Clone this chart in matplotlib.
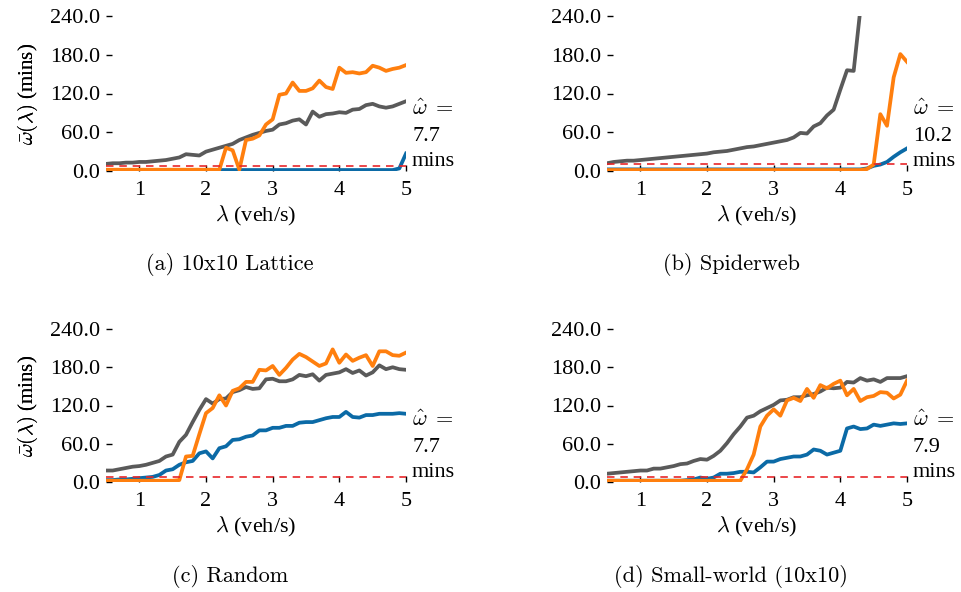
import numpy as np
import matplotlib
matplotlib.use("Agg")
import matplotlib.pyplot as plt
from matplotlib.ticker import FormatStrFormatter

plt.rcParams['font.family'] = 'serif'
plt.rcParams['font.serif'] = ['Liberation Serif', 'DejaVu Serif']
plt.rcParams['mathtext.fontset'] = 'cm'

# arrival rate grid (veh/s)
lam = np.round(np.arange(0.5, 5.01, 0.1), 2)

# ---------- (a) 10x10 Lattice ----------
a_gray = [11, 12, 12, 13, 13, 14, 14, 15, 16, 17, 19, 21, 26, 25, 24, 30, 33, 36, 39, 42, 48, 52,
          56, 59, 62, 64, 72, 74, 78, 80, 72, 92, 84, 88, 89, 91, 90, 95, 96, 102, 104, 100, 98, 100, 104, 108]
a_orange = [2, 2, 2, 2, 2, 2, 2, 2, 2, 2, 2, 2, 2, 2, 2, 2, 2, 2, 36, 32, 2, 48,
            50, 55, 72, 80, 118, 120, 137, 124, 124, 128, 140, 130, 127, 160, 152, 153, 151, 153, 163, 160, 155, 158, 160, 164]
a_blue = [1.5] * 44 + [4, 27]
a_hat = 7.7

# ---------- (b) Spiderweb ----------
b_gray = [12, 14, 15, 16, 16, 17, 18, 19, 20, 21, 22, 23, 24, 25, 26, 27, 29, 30, 31, 33, 35, 37,
          38, 40, 42, 44, 46, 48, 52, 59, 58, 69, 74, 86, 95, 126, 156, 155, 250, 330, 420, 520, 620, 720, 820, 920]
b_orange = [1.5] * 39 + [3, 10, 88, 70, 145, 181, 169]
b_blue = [2.5] * 39 + [4, 8, 10, 14, 22, 29, 35]
b_hat = 10.2

# ---------- (c) Random ----------
c_gray = [18, 18, 20, 22, 24, 25, 27, 30, 33, 40, 43, 63, 74, 94, 113, 130, 123, 130, 131, 141, 144, 149,
          146, 147, 161, 162, 158, 158, 161, 168, 166, 169, 159, 168, 170, 172, 177, 171, 175, 167, 172, 183, 177, 180, 177, 176]
c_orange = [2, 2, 2, 2, 2, 2, 2, 2, 2, 2, 2, 3, 40, 41, 75, 108, 116, 136, 120, 143, 147, 157,
            157, 176, 175, 182, 168, 179, 192, 201, 196, 189, 182, 186, 208, 187, 200, 190, 195, 199, 182, 205, 205, 199, 198, 203]
c_blue = [3, 3, 4, 4, 5, 6, 7, 8, 11, 18, 20, 27, 31, 33, 45, 48, 37, 53, 56, 66, 67, 71,
          73, 81, 81, 85, 85, 88, 88, 93, 94, 94, 97, 100, 102, 102, 110, 102, 101, 105, 105, 107, 107, 107, 108, 107]
c_hat = 7.7

# ---------- (d) Small-world (10x10) ----------
d_gray = [13, 14, 15, 16, 17, 18, 18, 21, 21, 23, 25, 28, 29, 33, 36, 35, 41, 49, 61, 75, 87, 101,
          104, 111, 116, 121, 128, 129, 133, 133, 136, 138, 142, 148, 147, 148, 157, 156, 163, 159, 161, 157, 163, 163, 163, 166]
d_orange = [2, 2, 2, 2, 2, 2, 2, 2, 2, 2, 2, 2, 2, 2, 2, 2, 2, 2, 2, 2, 2, 20,
            43, 87, 104, 114, 104, 128, 132, 127, 146, 132, 152, 147, 154, 159, 136, 146, 127, 133, 135, 141, 140, 131, 137, 159]
d_blue = [2, 2, 2, 2, 2, 2, 2, 2, 2, 2, 2, 2, 3, 4, 7, 5, 7, 13, 13, 14, 16, 16,
          15, 23, 32, 32, 36, 38, 40, 40, 43, 51, 49, 43, 46, 49, 84, 87, 83, 84, 90, 88, 90, 92, 91, 92]
d_hat = 7.9

panels = [
    ("(a) 10x10 Lattice", a_gray, a_blue, a_orange, a_hat),
    ("(b) Spiderweb", b_gray, b_blue, b_orange, b_hat),
    ("(c) Random", c_gray, c_blue, c_orange, c_hat),
    ("(d) Small-world (10x10)", d_gray, d_blue, d_orange, d_hat),
]

GRAY = '#5a5a5a'
BLUE = '#0b6aa6'
ORANGE = '#ff7f0e'
RED = '#e8262a'

W, H = 962, 592
fig = plt.figure(figsize=(W / 100, H / 100), dpi=100)

# axes boxes in pixels: (left, right, top, bottom)
boxes = [(106, 406, 16, 171), (607, 907, 16, 171),
         (106, 406, 329, 482), (607, 907, 329, 482)]
caption_pos = [(230, 265), (731, 265), (230, 577), (731, 577)]

for (title, gray, blue, orange, hat), (l, r, t, b), (cx, cy) in zip(panels, boxes, caption_pos):
    ax = fig.add_axes([l / W, 1 - b / H, (r - l) / W, (b - t) / H])
    ax.plot(lam, gray, color=GRAY, lw=2.7)
    ax.plot(lam, blue, color=BLUE, lw=2.7)
    ax.plot(lam, orange, color=ORANGE, lw=2.7)
    ax.axhline(hat, color=RED, lw=1.2, ls=(0, (4.5, 3.5)))

    ax.set_xlim(0.5, 5.0)
    ax.set_ylim(0, 240)
    ax.set_xticks([1, 2, 3, 4, 5])
    ax.set_yticks([0, 60, 120, 180, 240])
    ax.yaxis.set_major_formatter(FormatStrFormatter('%.1f'))
    ax.tick_params(direction='in', length=4, width=1, labelsize=16)
    ax.tick_params(axis='x', pad=7)
    ax.tick_params(axis='y', pad=4)
    for s in ax.spines.values():
        s.set_visible(False)

    ax.set_xlabel(r'$\lambda$ (veh/s)', fontsize=16, labelpad=3)
    ax.set_ylabel(r'$\bar{\omega}(\lambda)$ (mins)', fontsize=15)
    ax.yaxis.set_label_coords((40 - l) / (r - l), 0.5)

    ax.text(1.02, 0.0, r'$\hat{\omega}\;=$' + '\n%.1f\nmins' % hat, transform=ax.transAxes,
            ha='left', va='bottom', fontsize=16, linespacing=1.45)

    fig.text(cx / W, 1 - cy / H, title, family='cmr10', fontsize=16, ha='center', va='center')

fig.savefig('out.png', dpi=100)
